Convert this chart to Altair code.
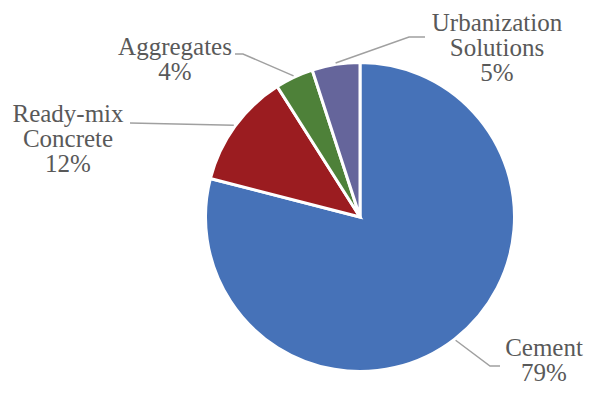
import math
import altair as alt
import pandas as pd

# ---- data ----
categories = ["Cement", "Ready-mix Concrete", "Aggregates", "Urbanization Solutions"]
values = [79, 12, 4, 5]
label_names = ["Cement", "Ready-mix|Concrete", "Aggregates", "Urbanization|Solutions"]
colors = ["#4672B8", "#9B1C20", "#4E8139", "#65659B"]

# ---- layout (chart pixel coordinates) ----
CX, CY, R = 352, 209, 153
LEAD_R = 156
label_anchor = {  # label centre x, first-line baseline y
    "Cement": (536, 348),
    "Ready-mix Concrete": (60, 114),
    "Aggregates": (167, 47),
    "Urbanization Solutions": (489, 23),
}
leader_tail = {  # remaining leader points after start
    "Cement": [(482, 358), (492, 358)],
    "Ready-mix Concrete": [(122, 115)],
    "Aggregates": [(235, 46), (227, 46)],
    "Urbanization Solutions": [(401, 29), (417, 29)],
}

total = sum(values)
pie_df = pd.DataFrame({"cat": categories, "value": values, "idx": range(len(values))})

lab_rows, line_rows = [], []
cum = 0
for i, (c, v, n) in enumerate(zip(categories, values, label_names)):
    mid = (cum + v / 2) / total * 2 * math.pi
    cum += v
    pct = round(v / total * 100)
    lx, ly = label_anchor[c]
    lab_rows.append({"cat": c, "label": f"{n}|{pct}%", "x": lx, "y": ly})
    pts = [(CX + LEAD_R * math.sin(mid), CY - LEAD_R * math.cos(mid))] + leader_tail[c]
    for j, (px, py) in enumerate(pts):
        line_rows.append({"cat": c, "i": j, "x": px, "y": py})

lab_df = pd.DataFrame(lab_rows)
line_df = pd.DataFrame(line_rows)

arcs = alt.Chart(pie_df).mark_arc(
    x=CX, y=CY, outerRadius=R + 1.5, stroke="white", strokeWidth=3
).encode(
    theta=alt.Theta("value:Q", stack=True),
    color=alt.Color("cat:N", scale=alt.Scale(domain=categories, range=colors), legend=None),
    order=alt.Order("idx:Q"),
)

leaders = alt.Chart(line_df).mark_line(color="#A0A0A0", strokeWidth=1.5).encode(
    x=alt.X("x:Q", scale=None),
    y=alt.Y("y:Q", scale=None),
    detail="cat:N",
    order="i:Q",
)

labels = alt.Chart(lab_df).transform_calculate(
    lines="split(datum.label, '|')"
).mark_text(
    font="Liberation Serif", fontSize=25, color="#595959",
    align="center", baseline="alphabetic", lineHeight=25,
).encode(
    x=alt.X("x:Q", scale=None),
    y=alt.Y("y:Q", scale=None),
    text=alt.Text("lines:N"),
)

chart = alt.layer(arcs, leaders, labels).properties(
    width=576, height=378, padding=0, autosize=alt.AutoSizeParams(type="none"),
).configure_view(stroke=None)

chart.save("out.html", embed_options={"renderer": "svg", "actions": False})
